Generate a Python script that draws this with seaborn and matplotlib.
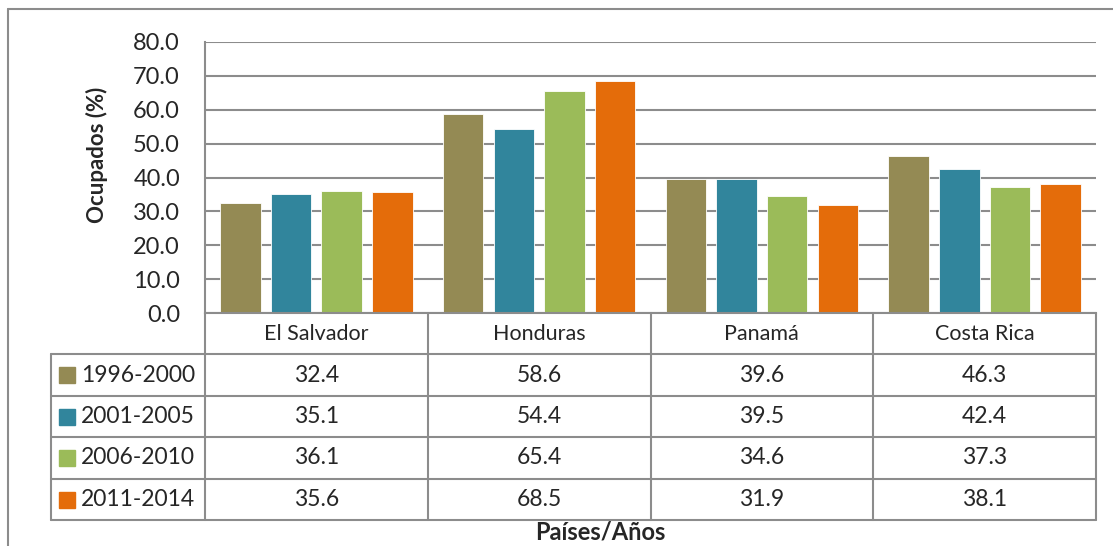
import seaborn as sns
import matplotlib.pyplot as plt
import matplotlib.transforms as mtransforms
from matplotlib.lines import Line2D
import pandas as pd

# Data
paises = ['El Salvador', 'Honduras', 'Panamá', 'Costa Rica']
periodos = ['1996-2000', '2001-2005', '2006-2010', '2011-2014']
v_1996_2000 = [32.4, 58.6, 39.6, 46.3]
v_2001_2005 = [35.1, 54.4, 39.5, 42.4]
v_2006_2010 = [36.1, 65.4, 34.6, 37.3]
v_2011_2014 = [35.6, 68.5, 31.9, 38.1]
colores = ['#948A54', '#31859C', '#9BBB59', '#E46C0A']

series = [v_1996_2000, v_2001_2005, v_2006_2010, v_2011_2014]
rows = []
for per, vals in zip(periodos, series):
    for p, v in zip(paises, vals):
        rows.append({'pais': p, 'periodo': per, 'valor': v})
df = pd.DataFrame(rows)

sns.set_style('white')
plt.rcParams['font.family'] = ['Lato', 'DejaVu Sans']

W, H = 1113, 546
fig = plt.figure(figsize=(W / 100, H / 100), dpi=100)
fy = lambda px: 1 - px / H

ax = fig.add_axes([205 / W, fy(313), (1096 - 205) / W, (313 - 42) / H])
sns.barplot(data=df, x='pais', y='valor', hue='periodo', palette=colores,
            width=0.91, gap=0.2, ax=ax, legend=False, saturation=1,
            edgecolor='white', linewidth=0.6)

grid_c = '#8c8c8c'
ax.set_ylim(0, 80)
ax.set_xlim(-0.5, len(paises) - 0.5)
ax.set_yticks(range(0, 81, 10))
ax.set_yticklabels([f'{t:.1f}' for t in range(0, 81, 10)])
ax.tick_params(axis='y', length=0, pad=18, labelsize=17)
ax.set_xticks([])
ax.set_xlabel('')
ax.set_ylabel('')
ax.yaxis.grid(True, color=grid_c, linewidth=1.5)
ax.set_axisbelow(True)
for s in ['top', 'right']:
    ax.spines[s].set_visible(False)
for s in ['left', 'bottom']:
    ax.spines[s].set_color(grid_c)
    ax.spines[s].set_linewidth(1.5)

# Data table below the chart
trans = mtransforms.blended_transform_factory(ax.transData, fig.transFigure)
px_per_cat = (1096 - 205) / len(paises)
xdat = lambda px: (px - 205) / px_per_cat - 0.5
row_y = [313, 354, 396, 437, 479, 520]
x_left = xdat(51)
x_right = len(paises) - 0.5

def hline(x0, x1, ypx):
    fig.add_artist(Line2D([x0, x1], [fy(ypx), fy(ypx)], transform=trans,
                          color=grid_c, lw=1.5, clip_on=False))

def vline(x, y0, y1):
    fig.add_artist(Line2D([x, x], [fy(y0), fy(y1)], transform=trans,
                          color=grid_c, lw=1.5, clip_on=False))

for ypx in row_y[1:]:
    hline(x_left, x_right, ypx)
for i in range(len(paises) + 1):
    vline(i - 0.5, 313, row_y[-1])
vline(x_left, row_y[1], row_y[-1])

for i, p in enumerate(paises):
    fig.text(i, fy((row_y[0] + row_y[1]) / 2), p, transform=trans,
             ha='center', va='center', fontsize=15.5)

for r, (per, vals, c) in enumerate(zip(periodos, series, colores)):
    yc = fy((row_y[r + 1] + row_y[r + 2]) / 2)
    fig.add_artist(Line2D([xdat(67.5)], [yc], transform=trans, marker='s',
                          ms=11, color=c, lw=0, clip_on=False))
    fig.text(xdat(81), yc, per, transform=trans, ha='left', va='center',
             fontsize=16.5)
    for i, v in enumerate(vals):
        fig.text(i, yc, f'{v:.1f}', transform=trans, ha='center',
                 va='center', fontsize=16.5)

# Axis titles
fig.text(97 / W, fy(155), 'Ocupados (%)', rotation=90, ha='center',
         va='center', fontsize=16, fontweight='bold')
fig.text(600 / W, fy(532), 'Países/Años', ha='center', va='center',
         fontsize=17, fontweight='bold')

# Outer chart border (top and left visible)
fig.add_artist(Line2D([8 / W, 1], [fy(9), fy(9)], color=grid_c, lw=1.5))
fig.add_artist(Line2D([8 / W, 8 / W], [fy(9), 0], color=grid_c, lw=1.5))

fig.savefig('out.png', dpi=100)
